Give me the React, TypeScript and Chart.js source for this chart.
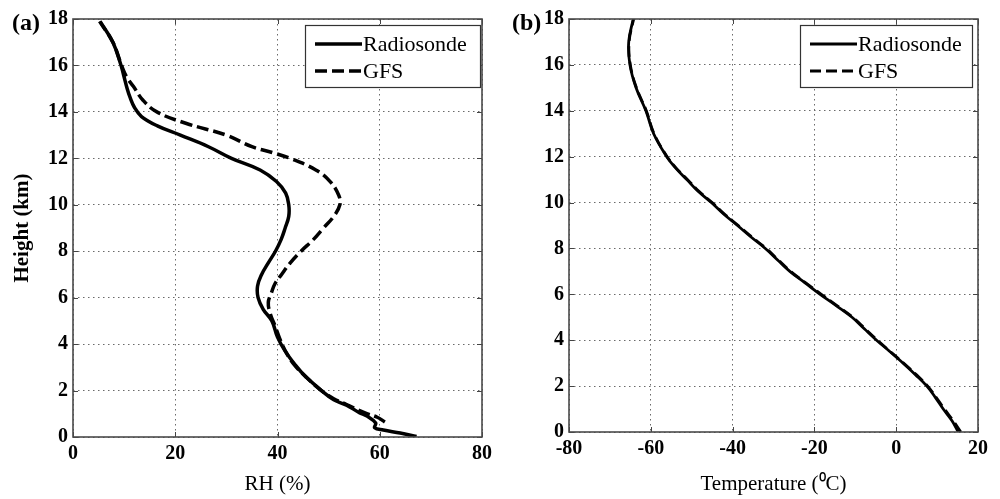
import React, { useEffect, useRef } from "react";
import { Chart, registerables } from "chart.js";

Chart.register(...registerables);

const FONT = '"Liberation Serif", "Times New Roman", serif';

// ---- Panel (a): relative humidity profile ----
const rhTicks = [0, 20, 40, 60, 80];
const heightTicks = [0, 2, 4, 6, 8, 10, 12, 14, 16, 18];

const rsRhHeight = [0.02, 0.17, 0.3, 0.4, 0.6, 0.9, 1.05, 1.37, 1.6, 2.0, 2.6, 3.1, 3.7, 4.3, 5.0, 5.5, 6.0, 6.5, 7.0, 7.5, 8.0, 8.5, 9.0, 9.5, 10.0, 10.5, 11.0, 11.5, 12.0, 12.5, 13.0, 13.4, 13.8, 14.2, 14.6, 15.0, 15.5, 16.0, 17.0, 17.9];
const rsRh = [67.2, 64.0, 60.7, 59.0, 59.2, 57.5, 56.0, 53.5, 51.0, 48.6, 45.5, 43.5, 41.5, 40.0, 38.9, 37.2, 36.2, 36.1, 36.9, 38.2, 39.6, 40.7, 41.5, 42.2, 42.2, 41.6, 39.8, 36.6, 31.0, 26.5, 21.0, 16.5, 13.4, 12.0, 11.2, 10.6, 10.0, 9.4, 7.8, 5.3];

const gfsRhHeight = [0.65, 0.85, 1.05, 1.4, 1.65, 2.0, 2.6, 3.1, 3.6, 4.2, 4.8, 5.3, 5.8, 6.2, 6.6, 7.0, 7.5, 8.0, 8.5, 9.0, 9.5, 10.0, 10.4, 11.0, 11.5, 12.0, 12.25, 12.5, 13.0, 13.5, 14.0, 14.5, 15.1, 15.5, 16.0, 17.0, 17.9];
const gfsRh = [61.0, 59.5, 57.0, 53.5, 51.0, 48.6, 45.5, 43.3, 41.8, 40.5, 39.5, 38.6, 38.2, 38.8, 39.5, 40.8, 42.5, 44.6, 47.0, 49.0, 51.0, 52.2, 52.0, 50.3, 47.5, 42.5, 39.0, 35.0, 30.0, 22.2, 16.4, 13.7, 11.8, 10.5, 9.5, 7.8, 5.2];

// ---- Panel (b): temperature profile ----
const tempTicks = [-80, -60, -40, -20, 0, 20];
const tempHeight = [0, 0.5, 1, 1.5, 2, 2.5, 3, 3.5, 4, 4.5, 5, 5.5, 6, 6.5, 7, 7.5, 8, 8.5, 9, 9.5, 10, 10.5, 11, 11.5, 12, 13, 14, 15, 16, 17, 18];
const rsTemp = [15.2, 13.6, 11.5, 9.6, 7.5, 4.7, 1.7, -1.5, -4.8, -7.8, -10.8, -14.6, -18.6, -22.3, -26.0, -29.0, -32.0, -35.5, -38.8, -42.2, -45.2, -48.5, -51.2, -53.9, -56.1, -59.3, -61.2, -63.6, -65.1, -65.4, -64.3];
const gfsTemp = [15.8, 13.9, 11.8, 9.8, 7.7, 4.9, 1.8, -1.4, -4.6, -7.6, -10.6, -14.4, -18.3, -22.1, -25.8, -28.8, -31.8, -35.3, -38.6, -42.0, -45.0, -48.3, -51.0, -53.8, -56.0, -59.2, -61.1, -63.5, -65.0, -65.3, -64.2];

const seriesNames = ["Radiosonde", "GFS"];

function pts(xs: number[], ys: number[]) {
  return xs.map((x, i) => ({ x, y: ys[i] }));
}

type PanelSpec = {
  label: string;
  xTitle: string;
  yTitle?: string;
  xMin: number;
  xMax: number;
  xTicks: number[];
  rs: { x: number; y: number }[];
  gfs: { x: number; y: number }[];
  lineWidth: number;
  dash: number[];
  yAxisWidth: number;
  xAxisHeight: number;
  padRight: number;
  legendBox: [number, number, number, number];
};

function makeFramePlugin(spec: PanelSpec) {
  return {
    id: "frame" + spec.label,
    afterDatasetsDraw(chart: any) {
      const { ctx, chartArea: a, scales } = chart;
      ctx.save();
      // inward tick marks (MATLAB style)
      ctx.strokeStyle = "#444";
      ctx.lineWidth = 1;
      const tl = 5;
      spec.xTicks.forEach((v) => {
        const px = Math.round(scales.x.getPixelForValue(v)) + 0.5;
        ctx.beginPath();
        ctx.moveTo(px, a.bottom);
        ctx.lineTo(px, a.bottom - tl);
        ctx.moveTo(px, a.top);
        ctx.lineTo(px, a.top + tl);
        ctx.stroke();
      });
      heightTicks.forEach((v) => {
        const py = Math.round(scales.y.getPixelForValue(v)) + 0.5;
        ctx.beginPath();
        ctx.moveTo(a.left, py);
        ctx.lineTo(a.left + tl, py);
        ctx.moveTo(a.right, py);
        ctx.lineTo(a.right - tl, py);
        ctx.stroke();
      });
      // box
      ctx.strokeStyle = "#4a4a4a";
      ctx.lineWidth = 1.6;
      ctx.strokeRect(a.left, a.top, a.right - a.left, a.bottom - a.top);

      // legend
      const [l, t, r, b] = spec.legendBox;
      ctx.fillStyle = "#fff";
      ctx.fillRect(l, t, r - l, b - t);
      ctx.strokeStyle = "#333";
      ctx.lineWidth = 1.2;
      ctx.strokeRect(l + 0.5, t + 0.5, r - l, b - t);
      const rows = [t + 19, t + 46];
      const dsets = chart.data.datasets;
      rows.forEach((ry, i) => {
        const ds = dsets[i];
        ctx.strokeStyle = "#000";
        ctx.lineWidth = ds.borderWidth;
        ctx.setLineDash(ds.borderDash || []);
        ctx.beginPath();
        ctx.moveTo(l + 10, ry);
        ctx.lineTo(l + 57, ry);
        ctx.stroke();
        ctx.setLineDash([]);
        ctx.fillStyle = "#000";
        ctx.font = `22px ${FONT}`;
        ctx.textAlign = "left";
        ctx.textBaseline = "middle";
        ctx.fillText(ds.label, l + 58, ry + 1);
      });
      ctx.restore();
    },
    afterDraw(chart: any) {
      const { ctx } = chart;
      ctx.save();
      ctx.fillStyle = "#000";
      ctx.font = `bold 24px ${FONT}`;
      ctx.textAlign = "left";
      ctx.textBaseline = "middle";
      ctx.fillText(spec.label, 12, 24);
      ctx.restore();
    },
  };
}

function makeConfig(spec: PanelSpec): any {
  return {
    type: "scatter",
    data: {
      datasets: [
        {
          label: seriesNames[0],
          data: spec.rs,
          showLine: true,
          borderColor: "#000",
          borderWidth: spec.lineWidth,
          pointRadius: 0,
          tension: 0.4,
          order: 1,
        },
        {
          label: seriesNames[1],
          data: spec.gfs,
          showLine: true,
          borderColor: "#000",
          borderWidth: spec.lineWidth,
          borderDash: spec.dash,
          pointRadius: 0,
          tension: 0.4,
          order: 2,
        },
      ],
    },
    options: {
      responsive: false,
      animation: false,
      layout: { padding: { top: 19, right: spec.padRight, left: 0, bottom: 0 } },
      plugins: { legend: { display: false }, tooltip: { enabled: false } },
      scales: {
        x: {
          type: "linear",
          min: spec.xMin,
          max: spec.xMax,
          afterBuildTicks: (s: any) => {
            s.ticks = spec.xTicks.map((v) => ({ value: v }));
          },
          afterFit: (s: any) => {
            s.height = spec.xAxisHeight;
          },
          ticks: {
            color: "#000",
            font: { family: FONT, size: 20, weight: "bold" },
            padding: 5,
            maxRotation: 0,
          },
          grid: { color: "#6a6a6a", lineWidth: 1, drawTicks: false },
          border: { display: false, dash: [1.5, 3.5] },
          title: {
            display: true,
            text: spec.xTitle,
            color: "#000",
            font: { family: FONT, size: 21 },
            padding: { top: 0, bottom: 2 },
          },
        },
        y: {
          type: "linear",
          min: 0,
          max: 18,
          afterBuildTicks: (s: any) => {
            s.ticks = heightTicks.map((v) => ({ value: v }));
          },
          afterFit: (s: any) => {
            s.width = spec.yAxisWidth;
          },
          ticks: {
            color: "#000",
            font: { family: FONT, size: 20, weight: "bold" },
            padding: 5,
          },
          grid: { color: "#6a6a6a", lineWidth: 1, drawTicks: false },
          border: { display: false, dash: [1.5, 3.5] },
          title: {
            display: !!spec.yTitle,
            text: spec.yTitle || "",
            color: "#000",
            font: { family: FONT, size: 21, weight: "bold" },
            padding: { top: 10, bottom: 0 },
          },
        },
      },
    },
    plugins: [makeFramePlugin(spec)],
  };
}

const panelA: PanelSpec = {
  label: "(a)",
  xTitle: "RH (%)",
  yTitle: "Height (km)",
  xMin: 0,
  xMax: 80,
  xTicks: rhTicks,
  rs: pts(rsRh, rsRhHeight),
  gfs: pts(gfsRh, gfsRhHeight),
  lineWidth: 3.5,
  dash: [12, 5],
  yAxisWidth: 73,
  xAxisHeight: 62,
  padRight: 18,
  legendBox: [305, 25, 480, 87],
};

const panelB: PanelSpec = {
  label: "(b)",
  xTitle: "Temperature (\u2070C)",
  xMin: -80,
  xMax: 20,
  xTicks: tempTicks,
  rs: pts(rsTemp, tempHeight),
  gfs: pts(gfsTemp, tempHeight),
  lineWidth: 2.8,
  dash: [11, 5],
  yAxisWidth: 69,
  xAxisHeight: 67,
  padRight: 22,
  legendBox: [300, 25, 472, 87],
};

function Panel({ spec, left }: { spec: PanelSpec; left: number }) {
  const ref = useRef<HTMLCanvasElement | null>(null);
  useEffect(() => {
    if (!ref.current) return;
    const chart = new Chart(ref.current, makeConfig(spec));
    return () => chart.destroy();
  }, [spec]);
  return (
    <div style={{ position: "absolute", left, top: 0, width: 500, height: 499 }}>
      <canvas ref={ref} width={500} height={499} style={{ width: 500, height: 499, display: "block" }} />
    </div>
  );
}

export default function App() {
  return (
    <div style={{ position: "fixed", left: 0, top: 0, width: 1000, height: 499, background: "#fff" }}>
      <Panel spec={panelA} left={0} />
      <Panel spec={panelB} left={500} />
    </div>
  );
}
